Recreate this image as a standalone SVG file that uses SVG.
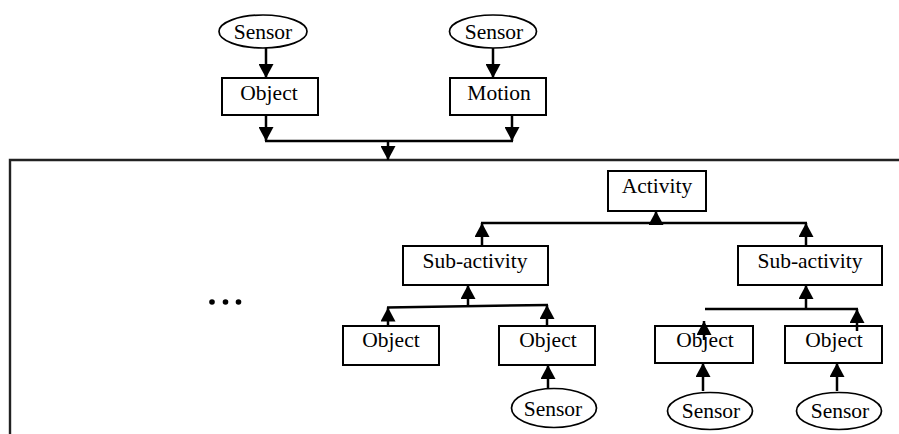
<svg xmlns="http://www.w3.org/2000/svg" width="899" height="434" viewBox="0 0 899 434">
<style>
.box{fill:#fff;stroke:#000;stroke-width:2}
.ell{fill:#fff;stroke:#000;stroke-width:1.7}
.c{stroke:#000;stroke-width:2.5;fill:none}
.a{stroke:#000;stroke-width:2.5;fill:none;marker-end:url(#ah)}
.frame{stroke:#222;stroke-width:2.4;fill:none}
</style>
<defs>
<marker id="ah" markerUnits="userSpaceOnUse" markerWidth="15" markerHeight="15" refX="14" refY="7.5" orient="auto" viewBox="0 0 15 15">
<path d="M0,0 L14,7.5 L0,15 Z" fill="#000"/>
</marker>
</defs>
<rect width="899" height="434" fill="#fff"/>
<path class="frame" d="M10,434 V160 H899"/>
<g id="dots">
<circle cx="212" cy="302" r="2.8"/>
<circle cx="225.5" cy="302" r="2.8"/>
<circle cx="238.5" cy="302" r="2.8"/>
</g>
<g id="connectors">
<line class="a" x1="266" y1="48" x2="266" y2="78"/>
<line class="a" x1="493" y1="48" x2="493" y2="78"/>
<line class="a" x1="266" y1="115" x2="266" y2="141"/>
<line class="a" x1="512" y1="115" x2="512" y2="141"/>
<line class="c" x1="265" y1="141" x2="513" y2="141"/>
<line class="a" x1="388" y1="141" x2="388" y2="160"/>
<line class="a" x1="656" y1="223" x2="656" y2="211"/>
<line class="c" x1="481" y1="223" x2="807" y2="223"/>
<line class="a" x1="482" y1="246" x2="482" y2="223"/>
<line class="a" x1="806" y1="246" x2="806" y2="223"/>
<line class="a" x1="468" y1="306" x2="468" y2="285"/>
<line class="c" x1="387" y1="307.5" x2="548" y2="305"/>
<line class="a" x1="388" y1="326" x2="388" y2="307.5"/>
<line class="a" x1="547" y1="326" x2="547" y2="305"/>
<line class="a" x1="548" y1="388" x2="548" y2="365"/>
<line class="a" x1="806" y1="309" x2="806" y2="285"/>
<line class="c" x1="705" y1="309" x2="858" y2="309"/>
<line class="a" x1="857" y1="331" x2="857" y2="309"/>
<line class="a" x1="703" y1="391" x2="703" y2="363"/>
<line class="a" x1="837" y1="391" x2="837" y2="363"/>
</g>
<g font-family="Liberation Serif, Times New Roman, serif" font-size="21.5" text-anchor="middle" fill="#000">
<g id="sensor1"><ellipse class="ell" cx="263" cy="31.5" rx="44" ry="16.5"/><text x="263" y="39">Sensor</text></g>
<g id="sensor2"><ellipse class="ell" cx="493" cy="31.5" rx="43.5" ry="16.5"/><text x="494" y="39">Sensor</text></g>
<g id="object1"><rect class="box" x="222" y="78" width="96" height="37"/><text x="269" y="100">Object</text></g>
<g id="motion"><rect class="box" x="450" y="78" width="96" height="37"/><text x="499" y="100">Motion</text></g>
<g id="activity"><rect class="box" x="608" y="171" width="98" height="40"/><text x="657" y="193">Activity</text></g>
<g id="subactivity1"><rect class="box" x="403" y="246" width="145" height="39"/><text x="475" y="268">Sub-activity</text></g>
<g id="subactivity2"><rect class="box" x="738" y="246" width="144" height="39"/><text x="810" y="268">Sub-activity</text></g>
<g id="object2"><rect class="box" x="343" y="326" width="96" height="39"/><text x="391" y="347">Object</text></g>
<g id="object3"><rect class="box" x="499" y="326" width="96" height="39"/><text x="548" y="347">Object</text></g>
<g id="object4"><rect class="box" x="655" y="326" width="98" height="37"/><text x="705" y="347">Object</text></g>
<g id="object5"><rect class="box" x="785" y="326" width="97" height="37"/><text x="834" y="347">Object</text></g>
<g id="arrow-inner"><line class="a" x1="704" y1="340" x2="704" y2="321"/><line class="c" x1="857" y1="326" x2="857" y2="331"/></g>
<g id="sensor3"><ellipse class="ell" cx="554" cy="408" rx="42.5" ry="19.5"/><text x="553" y="416">Sensor</text></g>
<g id="sensor4"><ellipse class="ell" cx="710" cy="411" rx="42.5" ry="18.5"/><text x="711" y="418">Sensor</text></g>
<g id="sensor5"><ellipse class="ell" cx="839" cy="411" rx="42.5" ry="18.5"/><text x="840" y="418">Sensor</text></g>
</g>
</svg>
